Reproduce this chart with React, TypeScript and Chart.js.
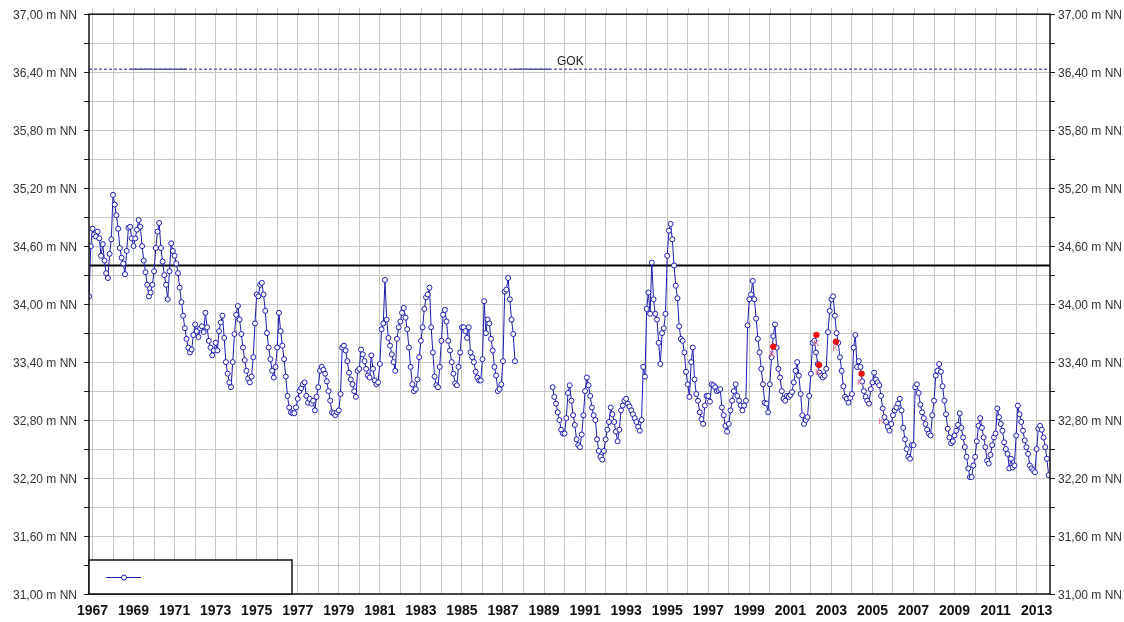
import React, { useEffect, useRef } from "react";
import { Chart, registerables } from "chart.js";

Chart.register(...registerables);

const FONT = '"Liberation Sans", Arial, Helvetica, sans-serif';

// ---- axis ticks ----
const xGridYears = [
  1967, 1968, 1969, 1970, 1971, 1972, 1973, 1974, 1975, 1976, 1977, 1978, 1979, 1980, 1981, 1982,
  1983, 1984, 1985, 1986, 1987, 1988, 1989, 1990, 1991, 1992, 1993, 1994, 1995, 1996, 1997, 1998,
  1999, 2000, 2001, 2002, 2003, 2004, 2005, 2006, 2007, 2008, 2009, 2010, 2011, 2012, 2013,
];
const xTickLabels = [
  "1967", "1969", "1971", "1973", "1975", "1977", "1979", "1981", "1983", "1985", "1987", "1989",
  "1991", "1993", "1995", "1997", "1999", "2001", "2003", "2005", "2007", "2009", "2011", "2013",
];
const yGridLevels = [
  31.0, 31.3, 31.6, 31.9, 32.2, 32.5, 32.8, 33.1, 33.4, 33.7, 34.0, 34.3, 34.6, 34.9, 35.2, 35.5,
  35.8, 36.1, 36.4, 36.7, 37.0,
];
const yLabelLevels = [31.0, 31.6, 32.2, 32.8, 33.4, 34.0, 34.6, 35.2, 35.8, 36.4, 37.0];
const yTickLabels = [
  "31,00 m NN", "31,60 m NN", "32,20 m NN", "32,80 m NN", "33,40 m NN", "34,00 m NN",
  "34,60 m NN", "35,20 m NN", "35,80 m NN", "36,40 m NN", "37,00 m NN",
];

// ---- monthly groundwater levels (m NN) ----
// from Nov 1966
const levels1966to1969 = [
  34.08, 34.6,
  34.78, 34.72, 34.7, 34.75, 34.68, 34.5, 34.62, 34.45, 34.32, 34.27, 34.52, 34.67,
  35.13, 35.03, 34.92, 34.78, 34.58, 34.48, 34.42, 34.31, 34.55, 34.79, 34.8, 34.68,
  34.6, 34.68, 34.77, 34.87, 34.8, 34.6, 34.45, 34.33, 34.2, 34.08, 34.12, 34.2,
];
// from Jan 1970
const levels1970s = [
  34.34, 34.58, 34.75, 34.84, 34.58, 34.44, 34.3, 34.2, 34.05, 34.34, 34.63, 34.55,
  34.5, 34.42, 34.32, 34.17, 34.02, 33.88, 33.75, 33.64, 33.55, 33.5, 33.53, 33.68,
  33.79, 33.72, 33.66, 33.75, 33.77, 33.71, 33.91, 33.76, 33.62, 33.55, 33.47, 33.52,
  33.6, 33.52, 33.72, 33.81, 33.88, 33.65, 33.4, 33.28, 33.19, 33.14, 33.4, 33.69,
  33.89, 33.98, 33.84, 33.69, 33.55, 33.42, 33.31, 33.23, 33.19, 33.25, 33.45, 33.8,
  34.1, 34.08, 34.2, 34.22, 34.1, 33.93, 33.7, 33.55, 33.43, 33.31, 33.24, 33.35,
  33.55, 33.91, 33.72, 33.57, 33.43, 33.25, 33.05, 32.93, 32.88, 32.87, 32.87, 32.93,
  33.02, 33.1, 33.13, 33.17, 33.19, 33.05, 32.98, 33.02, 32.97, 33.0, 32.9, 33.04,
  33.14, 33.31, 33.35, 33.32, 33.28, 33.2, 33.1, 33.0, 32.88, 32.87, 32.85, 32.88,
  32.9, 33.07, 33.55, 33.57, 33.52, 33.41, 33.29, 33.22, 33.17, 33.1, 33.04, 33.31,
];
// from Jan 1980 to Aug 1987
const levels1980to1987 = [
  33.33, 33.53, 33.48, 33.41, 33.33, 33.26, 33.24, 33.47, 33.33, 33.21, 33.17, 33.19,
  33.38, 33.74, 33.8, 34.25, 33.84, 33.65, 33.57, 33.48, 33.4, 33.31, 33.64, 33.76,
  33.82, 33.91, 33.96, 33.86, 33.74, 33.55, 33.35, 33.17, 33.1, 33.12, 33.22, 33.45,
  33.62, 33.76, 33.95, 34.07, 34.1, 34.17, 33.76, 33.5, 33.25, 33.16, 33.14, 33.35,
  33.62, 33.89, 33.94, 33.82, 33.62, 33.52, 33.4, 33.28, 33.18, 33.16, 33.35, 33.5,
  33.76, 33.76, 33.72, 33.65, 33.76, 33.5, 33.45, 33.4, 33.3, 33.24, 33.21, 33.21,
  33.43, 34.03, 33.7, 33.84, 33.8, 33.64, 33.52, 33.35, 33.26, 33.1, 33.12, 33.17,
  33.41, 34.13, 34.15, 34.27, 34.05, 33.84, 33.69, 33.41,
];
// from Jun 1989
const levels1989 = [33.14, 33.04, 32.97, 32.88, 32.8, 32.7, 32.66];
// from Jan 1990
const levels1990s = [
  32.66, 32.82, 33.08, 33.16, 33.0, 32.85, 32.75, 32.6, 32.54, 32.52, 32.65, 32.85,
  33.1, 33.24, 33.16, 33.05, 32.93, 32.85, 32.8, 32.6, 32.48, 32.42, 32.39, 32.48,
  32.6, 32.7, 32.78, 32.93, 32.86, 32.78, 32.68, 32.58, 32.7, 32.9, 32.95, 33.0,
  33.02, 32.97, 32.94, 32.9, 32.86, 32.82, 32.78, 32.73, 32.69, 32.8, 33.35, 33.25,
  33.95, 34.12, 33.9, 34.43, 34.05, 33.9, 33.84, 33.6, 33.38, 33.7, 33.75, 33.9,
  34.5, 34.76, 34.83, 34.67, 34.4, 34.19, 34.06, 33.77, 33.64, 33.62, 33.5, 33.3,
  33.17, 33.04, 33.4, 33.55, 33.22, 33.07, 33.0, 32.88, 32.81, 32.76, 32.95, 33.05,
  33.05, 32.99, 33.17, 33.16, 33.14, 33.1, 33.11, 33.12, 32.93, 32.85, 32.74, 32.68,
  32.76, 32.9, 33.0, 33.1, 33.17, 33.05, 33.0, 32.95, 32.9, 32.95, 33.0, 33.78,
  34.05, 34.1, 34.24, 34.05, 33.85, 33.64, 33.5, 33.33, 33.17, 32.98, 32.97, 32.88,
];
// from Jan 2000
const levels2000s = [
  33.17, 33.45, 33.67, 33.79, 33.55, 33.33, 33.24, 33.1, 33.02, 33.0, 33.05, 33.04,
  33.06, 33.09, 33.19, 33.31, 33.4, 33.26, 33.07, 32.85, 32.76, 32.8, 32.83, 33.05,
  33.28, 33.6, 33.62, 33.5, 33.38, 33.29, 33.26, 33.24, 33.26, 33.33, 33.71, 33.93,
  34.05, 34.08, 33.88, 33.7, 33.6, 33.45, 33.31, 33.15, 33.04, 33.02, 32.98, 33.03,
  33.07, 33.55, 33.68, 33.35, 33.41, 33.35, 33.2, 33.1, 33.04, 33.0, 32.97, 33.12,
  33.19, 33.29, 33.22, 33.19, 33.16, 33.05, 32.92, 32.83, 32.78, 32.73, 32.69, 32.76,
  32.85, 32.9, 32.93, 32.97, 33.02, 32.9, 32.72, 32.6, 32.5, 32.42, 32.4, 32.54,
  32.54, 33.14, 33.17, 33.08, 32.96, 32.88, 32.82, 32.76, 32.7, 32.66, 32.64, 32.85,
  33.0, 33.26, 33.31, 33.38, 33.3, 33.15, 33.0, 32.86, 32.71, 32.62, 32.56, 32.58,
  32.64, 32.69, 32.75, 32.87, 32.72, 32.62, 32.52, 32.42, 32.3, 32.21, 32.21, 32.33,
];
// from Jan 2010 to Aug 2013
const levels2010to2013 = [
  32.42, 32.58, 32.74, 32.82, 32.72, 32.62, 32.52, 32.38, 32.35, 32.44, 32.54, 32.62,
  32.66, 32.92, 32.83, 32.76, 32.69, 32.57, 32.5, 32.45, 32.3, 32.4, 32.31, 32.33,
  32.64, 32.95, 32.86, 32.78, 32.69, 32.59, 32.52, 32.45, 32.33, 32.3, 32.28, 32.26,
  32.5, 32.71, 32.74, 32.7, 32.62, 32.52, 32.4, 32.23,
];

// control measurements ("K")
const kDotYears = [2000.17, 2002.27, 2002.4, 2003.22, 2004.47];
const kDotLevels = [33.56, 33.68, 33.37, 33.61, 33.28];
const kLetterYears = [2000.13, 2002.28, 2002.35, 2003.19, 2004.39, 2005.43];
const kLetterLevels = [33.48, 33.59, 33.29, 33.54, 33.19, 32.79];

const refLevel = 34.4;
const gokLevel = 36.43;
const gokSolidFrom = [1968.8, 1987.45];
const gokSolidTo = [1971.6, 1989.3];
const gokLabelYear = 1989.63;

const X_MIN = 1966.83;
const X_MAX = 2013.65;
const BLUE = "#1c1cb0";

function monthly(year: number, month: number, values: number[]) {
  return values.map((v, i) => ({ x: year + (month + i) / 12, y: v as number | null }));
}

const seriesData = [
  ...monthly(1966, 10, levels1966to1969),
  ...monthly(1970, 0, levels1970s),
  ...monthly(1980, 0, levels1980to1987),
  { x: 1988.5, y: null },
  ...monthly(1989, 5, levels1989),
  ...monthly(1990, 0, levels1990s),
  ...monthly(2000, 0, levels2000s),
  ...monthly(2010, 0, levels2010to2013),
];

const gokSolidData: { x: number; y: number | null }[] = [];
gokSolidFrom.forEach((f, i) => {
  gokSolidData.push({ x: f, y: gokLevel }, { x: gokSolidTo[i], y: gokLevel }, { x: gokSolidTo[i] + 0.01, y: null });
});

const overlayPlugin = {
  id: "overlay",
  afterDatasetsDraw(chart: any) {
    const { ctx, chartArea: ca, scales } = chart;
    const xs = scales.x;
    const ys = scales.y;
    ctx.save();
    // GOK label
    ctx.fillStyle = "#222";
    ctx.font = `12px ${FONT}`;
    ctx.textBaseline = "alphabetic";
    ctx.textAlign = "left";
    ctx.fillText("GOK", xs.getPixelForValue(gokLabelYear), ys.getPixelForValue(gokLevel) - 4);
    // K letters
    ctx.fillStyle = "#e86a8a";
    ctx.font = `9px ${FONT}`;
    ctx.textAlign = "center";
    ctx.textBaseline = "middle";
    kLetterYears.forEach((yr, i) => {
      ctx.fillText("K", xs.getPixelForValue(yr), ys.getPixelForValue(kLetterLevels[i]));
    });
    ctx.restore();
  },
  afterDraw(chart: any) {
    const { ctx, chartArea: ca, scales } = chart;
    ctx.save();
    // top tick marks
    ctx.strokeStyle = "#c8c8c8";
    ctx.lineWidth = 1;
    xGridYears.forEach((yr) => {
      const px = Math.round(scales.x.getPixelForValue(yr)) + 0.5;
      ctx.beginPath();
      ctx.moveTo(px, ca.top - 6);
      ctx.lineTo(px, ca.top);
      ctx.stroke();
    });
    // frame
    ctx.strokeStyle = "#111";
    ctx.lineWidth = 1.5;
    ctx.strokeRect(ca.left, ca.top, ca.right - ca.left, ca.bottom - ca.top);
    // legend box
    const lx = ca.left;
    const ly = ca.bottom - 34;
    ctx.fillStyle = "#fff";
    ctx.fillRect(lx, ly, 203, 34);
    ctx.strokeStyle = "#111";
    ctx.lineWidth = 1.5;
    ctx.strokeRect(lx, ly, 203, 34);
    ctx.strokeStyle = BLUE;
    ctx.lineWidth = 1;
    ctx.beginPath();
    ctx.moveTo(lx + 17, ly + 17.5);
    ctx.lineTo(lx + 52, ly + 17.5);
    ctx.stroke();
    ctx.beginPath();
    ctx.arc(lx + 35, ly + 17.5, 2.5, 0, Math.PI * 2);
    ctx.fillStyle = "#fff";
    ctx.fill();
    ctx.stroke();
    ctx.restore();
  },
};

function yLabel(value: number) {
  const i = yLabelLevels.findIndex((l) => Math.abs(l - value) < 0.01);
  return i >= 0 ? yTickLabels[i] : "";
}

function xLabel(value: number) {
  const s = String(Math.round(value));
  return xTickLabels.includes(s) ? s : "";
}

export default function App() {
  const ref = useRef<HTMLCanvasElement | null>(null);
  useEffect(() => {
    if (!ref.current) return;
    const yAxisCommon = {
      type: "linear" as const,
      min: 31,
      max: 37,
      afterBuildTicks: (axis: any) => {
        axis.ticks = yGridLevels.map((v) => ({ value: v }));
      },
      border: { display: false },
      ticks: {
        autoSkip: false,
        color: "#333",
        font: { family: FONT, size: 12 },
        labelOffset: 1.5,
        callback: (v: any) => yLabel(Number(v)),
      },
    };
    const chart = new Chart(ref.current, {
      type: "line",
      data: {
        datasets: [
          {
            label: "K",
            data: kDotYears.map((x, i) => ({ x, y: kDotLevels[i] })),
            showLine: false,
            pointRadius: 2.8,
            pointBackgroundColor: "#e81010",
            pointBorderColor: "#e81010",
            pointBorderWidth: 1,
          },
          {
            label: "Grundwasserstand",
            data: seriesData,
            borderColor: BLUE,
            borderWidth: 1,
            pointRadius: 2.5,
            pointBackgroundColor: "#fff",
            pointBorderColor: BLUE,
            pointBorderWidth: 1,
            spanGaps: false,
            tension: 0,
          },
          {
            label: "Referenz",
            data: [
              { x: X_MIN, y: refLevel },
              { x: X_MAX, y: refLevel },
            ],
            borderColor: "#000",
            borderWidth: 2,
            pointRadius: 0,
          },
          {
            label: "GOK solid",
            data: gokSolidData,
            borderColor: "#5a5ab0",
            borderWidth: 1.5,
            pointRadius: 0,
            spanGaps: false,
          },
          {
            label: "GOK",
            data: [
              { x: X_MIN, y: gokLevel },
              { x: X_MAX, y: gokLevel },
            ],
            borderColor: "#6a6ab4",
            borderWidth: 1.5,
            borderDash: [3, 2],
            pointRadius: 0,
          },
        ],
      },
      options: {
        animation: false,
        responsive: false,
        layout: { padding: { top: 11, left: 0, right: 0, bottom: 0 } },
        plugins: { legend: { display: false }, tooltip: { enabled: false } },
        scales: {
          x: {
            type: "linear",
            min: X_MIN,
            max: X_MAX,
            afterBuildTicks: (axis: any) => {
              axis.ticks = xGridYears.map((v) => ({ value: v }));
            },
            afterFit: (axis: any) => {
              axis.height = 28;
            },
            border: { display: false },
            grid: { color: "#c8c8c8", lineWidth: 1, drawTicks: false },
            ticks: {
              autoSkip: false,
              maxRotation: 0,
              padding: 9,
              color: "#111",
              font: { family: FONT, size: 14, weight: "bold" },
              callback: (v: any) => xLabel(Number(v)),
            },
          },
          y: {
            ...yAxisCommon,
            position: "left",
            afterFit: (axis: any) => {
              axis.width = 89;
            },
            grid: { color: "#c8c8c8", lineWidth: 1, tickLength: 5, tickColor: "#222" },
            ticks: { ...yAxisCommon.ticks, padding: 7 },
          },
          y2: {
            ...yAxisCommon,
            position: "right",
            afterFit: (axis: any) => {
              axis.width = 74;
            },
            grid: { drawOnChartArea: false, tickLength: 5, tickColor: "#222" },
            ticks: { ...yAxisCommon.ticks, padding: 3 },
          },
        },
      },
      plugins: [overlayPlugin],
    } as any);
    return () => chart.destroy();
  }, []);
  return (
    <div style={{ position: "fixed", left: 0, top: 0, width: 1124, height: 622, background: "#fff" }}>
      <canvas ref={ref} width={1124} height={622} />
    </div>
  );
}
